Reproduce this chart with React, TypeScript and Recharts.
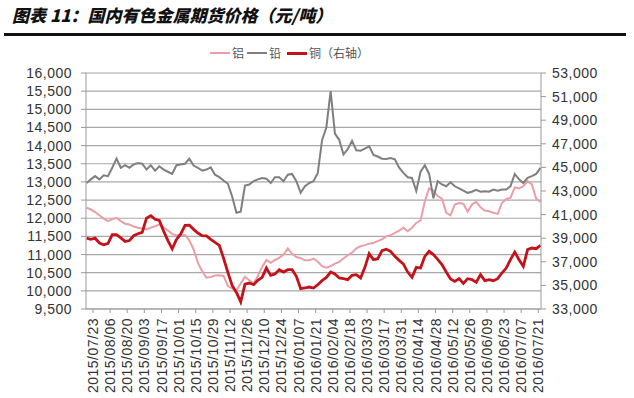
import React from 'react';
import { LineChart, Line, XAxis, YAxis, CartesianGrid } from 'recharts';

// ---- Data ----
const title = '图表 11：国内有色金属期货价格（元/吨）';
const seriesNames = ['铝', '铅', '铜（右轴）'];

const startDate = '2015/07/23';
const tickLabels = [
  '2015/07/23', '2015/08/06', '2015/08/20', '2015/09/03', '2015/09/17', '2015/10/01',
  '2015/10/15', '2015/10/29', '2015/11/12', '2015/11/26', '2015/12/10', '2015/12/24',
  '2016/01/07', '2016/01/21', '2016/02/04', '2016/02/18', '2016/03/03', '2016/03/17',
  '2016/03/31', '2016/04/14', '2016/04/28', '2016/05/12', '2016/05/26', '2016/06/09',
  '2016/06/23', '2016/07/07', '2016/07/21',
];

// samples every 3.5 days, first one 5.25 days before 2015/07/23
const sampleStartDay = -5.25;
const sampleStepDays = 3.5;

const aluminium = [
  12290, 12240, 12170, 12080, 11990, 11920, 11970, 12010, 11920, 11850,
  11830, 11770, 11740, 11720, 11690, 11740, 11780, 11830, 11750, 11660,
  11570, 11530, 11530, 11540, 11390, 11140, 10770, 10540, 10360, 10380,
  10420, 10430, 10410, 10130, 10070, 10010, 10200, 10390, 10290, 10200,
  10410, 10660, 10850, 10770, 10850, 10910, 11000, 11170, 11020, 10930,
  10900, 10840, 10840, 10890, 10800, 10680, 10640, 10680, 10750, 10800,
  10890, 10980, 11050, 11170, 11230, 11260, 11300, 11320, 11370, 11420,
  11500, 11530, 11600, 11660, 11740, 11640, 11740, 11870, 11940, 12470,
  12820, 12760, 12610, 12540, 12150, 12080, 12380, 12420, 12400, 12180,
  12380, 12450, 12300, 12210, 12190, 12150, 12120, 12420, 12530, 12560,
  12850, 12820, 12880, 13020, 12930, 12540, 12450,
];

const lead = [
  12970, 13070, 13160, 13070, 13180, 13160, 13390, 13640, 13390, 13460,
  13390, 13480, 13520, 13500, 13340, 13460, 13310, 13430, 13340, 13280,
  13220, 13460, 13480, 13500, 13640, 13450, 13390, 13310, 13340, 13400,
  13200, 13130, 13040, 12950, 12600, 12150, 12180, 12900, 12930, 13020,
  13070, 13110, 13090, 12970, 13130, 13130, 13020, 13200, 13220, 13020,
  12700, 12880, 12970, 13020, 13250, 14150, 14500, 15500, 14330, 14160,
  13760, 13900, 14130, 13870, 13860, 13920, 13980, 13740, 13700, 13640,
  13630, 13660, 13620, 13390, 13250, 13130, 13110, 12750, 13280, 13460,
  13220, 12550, 13020, 12930, 12880, 12990, 12880, 12820, 12760, 12700,
  12730, 12780, 12730, 12740, 12730, 12790, 12760, 12790, 12790, 12880,
  13220, 13070, 12970, 13110, 13160, 13220, 13390,
];

const copper = [
  39000, 38900, 39000, 38590, 38450, 38540, 39300, 39300, 39020, 38730,
  38800, 39210, 39380, 39500, 40700, 40900, 40600, 40500, 39600, 38800,
  38100, 38900, 39360, 40090, 40100, 39750, 39440, 39210, 39200, 38900,
  38650, 38400, 37300, 36100, 35000, 34400, 33600, 35100, 35200, 35060,
  35430, 35680, 36470, 35850, 35970, 36330, 36130, 36330, 36330, 35770,
  34720, 34780, 34860, 34780, 35060, 35400, 35680, 36130, 35970, 35630,
  35570, 35490, 35850, 35910, 35630, 36530, 37690, 37180, 37260, 37940,
  38070, 37890, 37460, 37120, 36810, 36130, 35680, 36530, 36470, 37460,
  37890, 37610, 37210, 36760, 36130, 35540, 35340, 35570, 35170, 35570,
  35490, 35260, 35910, 35400, 35490, 35400, 35570, 36050, 36470, 37180,
  37830, 37180, 36620, 38030, 38170, 38110, 38390,
];

const leftTicks = [9500, 10000, 10500, 11000, 11500, 12000, 12500, 13000, 13500, 14000, 14500, 15000, 15500, 16000];
const rightTicks = [33000, 35000, 37000, 39000, 41000, 43000, 45000, 47000, 49000, 51000, 53000];

// ---- Derived tables ----
const DAY = 86400000;
const dayOf = (s: string) => Math.round((Date.parse(s) - Date.parse(startDate)) / DAY);
const tickDays = tickLabels.map(dayOf);
const labelByDay: Record<number, string> = {};
tickLabels.forEach((l, i) => { labelByDay[tickDays[i]] = l; });

const data = aluminium.map((v, i) => ({
  day: sampleStartDay + i * sampleStepDays,
  al: v,
  pb: lead[i],
  cu: copper[i],
}));

const COLORS = { al: '#eb9ea6', pb: '#7f7f7f', cu: '#c3121a' };
const AXIS = '#999';
const FONT = '"Liberation Sans", Arial, sans-serif';
const CJK = '"Noto Sans CJK SC", "Noto Sans", sans-serif';

const fmt = (v: number) => v.toLocaleString('en-US');

const XTick = (props: any) => {
  const { x, y, payload } = props;
  const label = labelByDay[payload.value] ?? '';
  return (
    <text
      x={x}
      y={y}
      transform={`rotate(-90, ${x}, ${y})`}
      textAnchor="end"
      dy="0.36em"
      fill="#333"
      fontSize={14}
      fontFamily={FONT}
      style={{ letterSpacing: '0.5px' }}
    >
      {label}
    </text>
  );
};

const tickStyle = { fontSize: 14, fontFamily: FONT, fill: '#333', style: { letterSpacing: '0.5px' } };

export default function App() {
  return (
    <div style={{ position: 'absolute', left: 0, top: 0, width: 634, height: 398, background: '#fff', overflow: 'hidden' }}>
      <div
        style={{
          position: 'absolute', left: 12, top: 4, fontFamily: CJK, fontSize: 17, lineHeight: '22px',
          fontWeight: 900, fontStyle: 'italic', color: '#111', whiteSpace: 'nowrap',
        }}
      >
        {title}
      </div>
      <div style={{ position: 'absolute', left: 4, top: 33, width: 622, height: 3, background: '#111' }} />

      <LineChart
        width={634}
        height={398}
        data={data}
        margin={{ top: 73, right: 0, bottom: 0, left: 0 }}
        style={{ position: 'absolute', left: 0, top: 0 }}
      >
        <CartesianGrid yAxisId="left" vertical={false} stroke="#a8a8a8" strokeWidth={1.2} />
        <XAxis
          dataKey="day"
          type="number"
          domain={[-5.7, 366.2]}
          ticks={tickDays}
          interval={0}
          allowDataOverflow
          height={89}
          tickSize={4}
          tickMargin={5}
          stroke={AXIS}
          tickLine={{ stroke: AXIS }}
          tick={<XTick />}
        />
        <YAxis
          yAxisId="left"
          orientation="left"
          width={86}
          domain={[9500, 16000]}
          ticks={leftTicks}
          interval={0}
          allowDataOverflow
          tickSize={5}
          tickMargin={9}
          stroke={AXIS}
          tickFormatter={fmt}
          tick={tickStyle}
        />
        <YAxis
          yAxisId="right"
          orientation="right"
          width={93}
          domain={[33000, 53000]}
          ticks={rightTicks}
          interval={0}
          allowDataOverflow
          tickSize={5}
          tickMargin={6}
          stroke={AXIS}
          tickFormatter={fmt}
          tick={tickStyle}
        />
        <Line yAxisId="left" type="linear" dataKey="al" name={seriesNames[0]} stroke={COLORS.al} strokeWidth={2} dot={false} isAnimationActive={false} />
        <Line yAxisId="left" type="linear" dataKey="pb" name={seriesNames[1]} stroke={COLORS.pb} strokeWidth={2} dot={false} isAnimationActive={false} />
        <Line yAxisId="right" type="linear" dataKey="cu" name={seriesNames[2]} stroke={COLORS.cu} strokeWidth={2.8} dot={false} isAnimationActive={false} />
      </LineChart>

      {/* legend */}
      <div style={{ position: 'absolute', left: 0, top: 45, width: 634, height: 16, fontFamily: CJK, fontSize: 12, color: '#555' }}>
        {[
          { name: seriesNames[0], color: COLORS.al, left: 210, w: 2 },
          { name: seriesNames[1], color: COLORS.pb, left: 247, w: 2 },
          { name: seriesNames[2], color: COLORS.cu, left: 287, w: 3 },
        ].map((s) => (
          <div key={s.name} style={{ position: 'absolute', left: s.left, top: 0, height: 16, display: 'flex', alignItems: 'center', whiteSpace: 'nowrap' }}>
            <div style={{ width: 20, height: s.w, background: s.color, marginRight: 2 }} />
            <span style={{ lineHeight: '16px' }}>{s.name}</span>
          </div>
        ))}
      </div>
    </div>
  );
}
